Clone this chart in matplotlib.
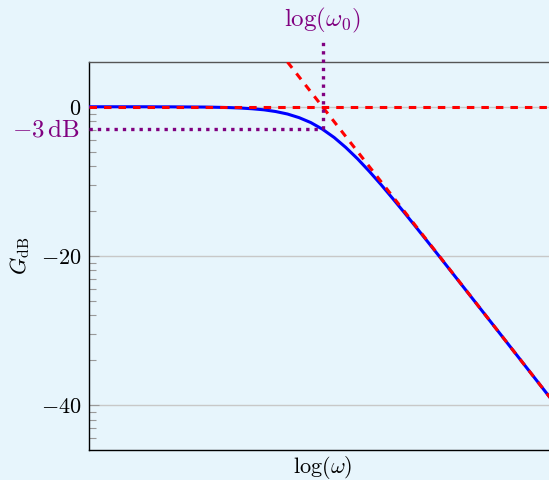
import numpy as np
import matplotlib
matplotlib.use('Agg')
import matplotlib.pyplot as plt

# log10(omega / omega0) samples and gain in dB
log_w = [-2.0, -1.9, -1.8, -1.7, -1.6, -1.5, -1.4, -1.3, -1.2, -1.1,
         -1.0, -0.9, -0.8, -0.7, -0.6, -0.5, -0.4, -0.3, -0.2, -0.1,
         0.0, 0.1, 0.2, 0.3, 0.4, 0.5, 0.6, 0.7, 0.8, 0.9,
         1.0, 1.1, 1.2, 1.3, 1.4, 1.5, 1.6, 1.7, 1.8, 1.9, 2.0]
gain_db = [0.00, 0.00, 0.00, 0.00, 0.00, -0.00, -0.01, -0.01, -0.02, -0.03,
           -0.04, -0.07, -0.11, -0.17, -0.27, -0.41, -0.64, -0.97, -1.46, -2.12,
           -3.01, -4.12, -5.46, -6.97, -8.64, -10.41, -12.27, -14.17, -16.11, -18.07,
           -20.04, -22.03, -24.02, -26.01, -28.01, -30.00, -32.00, -34.00, -36.00, -38.00, -40.00]

# asymptotes
flat_x = [-2.0, 2.0]
flat_y = [0.0, 0.0]
slope_x = [-0.3, 2.0]
slope_y = [6.0, -40.0]

# cutoff marker
cut_x = 0.0
cut_db = -3.0
yticks = [0, -20, -40]
ytick_labels = ['$0$', '$-20$', '$-40$']

bg = '#e7f5fc'
purple = '#800080'

plt.rcParams['mathtext.fontset'] = 'cm'
plt.rcParams['font.size'] = 16

fig = plt.figure(figsize=(5.49, 4.8), dpi=100, facecolor=bg)
ax = fig.add_axes([89 / 549, 30 / 480, 467 / 549, 388 / 480])
ax.set_facecolor(bg)
ax.set_xlim(-2, 2)
ax.set_ylim(-46, 6)

ax.set_yticks(yticks)
ax.set_yticklabels(ytick_labels)
minor = [d + 20 * np.log10(k) for d in (-60, -40, -20) for k in range(2, 10)]
ax.set_yticks([m for m in minor if -46 < m < 6], minor=True)
ax.set_xticks([])
ax.tick_params(axis='y', which='major', direction='in', length=7.5, width=0.8,
               color='#999999', pad=5.5, right=False)
ax.tick_params(axis='y', which='minor', direction='in', length=5, width=0.8,
               color='#999999', right=False)
ax.grid(True, axis='y', which='major', color='#c8c8c8', lw=1.0)
ax.set_axisbelow(True)

ax.spines['right'].set_visible(False)
ax.spines['top'].set_color('#555555')
for s in ('left', 'bottom'):
    ax.spines[s].set_color('black')
for s in ax.spines.values():
    s.set_linewidth(1.0)

ax.plot(log_w, gain_db, color='blue', lw=2.2, solid_capstyle='butt', zorder=3)
ax.plot(flat_x, flat_y, color='red', lw=2.2, dashes=(2.45, 2.3),
        dash_capstyle='butt', zorder=4)
ax.plot(slope_x, slope_y, color='red', lw=2.2, dashes=(2.45, 2.3),
        dash_capstyle='butt', zorder=4)

ax.plot([-2, cut_x], [cut_db, cut_db], color=purple, lw=2.4, dashes=(1, 1.5),
        dash_capstyle='butt', zorder=5)
ax.plot([cut_x, cut_x], [cut_db, 8.7], color=purple, lw=2.4, dashes=(1, 1.5),
        dash_capstyle='butt', clip_on=False, zorder=5)

ax.text(cut_x, 11.6, r'$\log(\omega_0)$', color=purple, ha='center', va='center',
        fontsize=18)
ax.annotate(r'$-3\,\mathrm{dB}$', xy=(-2, cut_db), xytext=(-7, 0),
            textcoords='offset points', ha='right', va='center', color=purple,
            fontsize=18)

ax.set_xlabel(r'$\log(\omega)$', labelpad=3)
ax.set_ylabel(r'$G_{\mathrm{dB}}$', labelpad=6)

fig.savefig('out.png', dpi=100, facecolor=bg)
